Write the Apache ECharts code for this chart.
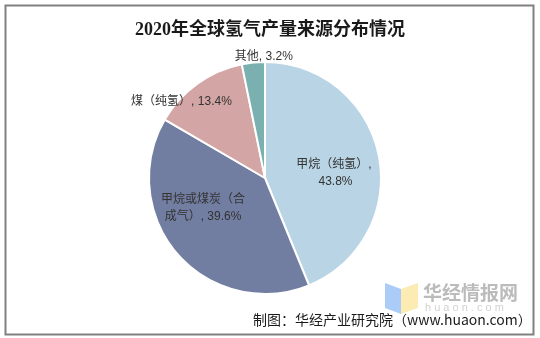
<!DOCTYPE html>
<html>
<head>
<meta charset="utf-8">
<style>
  html, body { margin: 0; padding: 0; background: #ffffff; }
  #chart { width: 540px; height: 338px; }
</style>
<script src="https://cdn.jsdelivr.net/npm/echarts@6/dist/echarts.min.js"></script>
</head>
<body>
<div id="chart"></div>
<script>
// Sources of global hydrogen production, 2020 (share, %)
const categories = ['甲烷（纯氢）', '甲烷或煤炭（合成气）', '煤（纯氢）', '其他'];
const shares = [43.8, 39.6, 13.4, 3.2];
const titleText = '2020年全球氢气产量来源分布情况';
const sourceText = '制图：华经产业研究院（www.huaon.com）';

const sliceColors = ['#b9d4e4', '#727ea1', '#d4a5a5', '#7bb0b1'];
// where each label wraps onto a second line (character index, -1 = single line)
const labelBreak = [7, 7, -1, -1];
// nudges from the default in-slice label anchor
const labelShift = [[9, 7], [-16, -10], [-48, -27], [5, -61]];

const CJK = '"Liberation Sans", "Noto Sans CJK SC", sans-serif';

const chart = echarts.init(document.getElementById('chart'), null, { renderer: 'canvas' });

chart.setOption({
  backgroundColor: '#ffffff',
  animation: false,
  title: {
    text: titleText,
    left: 'center',
    top: 16,
    textStyle: {
      fontFamily: '"Liberation Serif", "Noto Sans CJK SC", serif',
      fontSize: 18,
      fontWeight: 'bold',
      color: '#1a1a1a'
    }
  },
  graphic: [
    // outer frame
    {
      type: 'rect',
      shape: { x: 5.5, y: 5.5, width: 528, height: 329 },
      style: { fill: 'none', stroke: '#808080', lineWidth: 2 },
      z: 1
    },
    // watermark logo
    {
      type: 'polygon',
      shape: { points: [[385, 283], [401, 289], [401, 314], [385, 308]] },
      style: { fill: '#9cc3f4', opacity: 0.85 },
      z: 5
    },
    {
      type: 'polygon',
      shape: { points: [[401, 289], [418, 283], [418, 308], [401, 314]] },
      style: { fill: '#fbe7a6', opacity: 0.85 },
      z: 5
    },
    {
      type: 'text',
      left: 423,
      top: 283,
      style: {
        text: '华经情报网',
        font: 'bold 19px "Noto Sans CJK SC", sans-serif',
        fill: '#b4b4b4',
        opacity: 0.9
      },
      z: 5
    },
    {
      type: 'text',
      left: 425,
      top: 302,
      style: {
        text: 'h u a o n . c o m',
        font: '11px "Liberation Sans", sans-serif',
        fill: '#d2d2d2'
      },
      z: 5
    },
    // source note
    {
      type: 'text',
      left: 253,
      top: 313,
      style: {
        text: sourceText,
        font: '14px "Noto Sans CJK SC", sans-serif',
        fill: '#1a1a1a'
      },
      z: 6
    }
  ],
  series: [{
    type: 'pie',
    center: [265, 178],
    radius: 116,
    startAngle: 90,
    clockwise: true,
    avoidLabelOverlap: false,
    itemStyle: { borderColor: '#ffffff', borderWidth: 2 },
    label: {
      show: true,
      position: 'inside',
      fontFamily: CJK,
      fontSize: 12,
      lineHeight: 17,
      color: '#333333',
      align: 'center',
      formatter: function (p) {
        const full = p.name + ', ' + shares[p.dataIndex] + '%';
        const b = labelBreak[p.dataIndex];
        return b > 0 ? full.slice(0, b) + '\n' + full.slice(b) : full;
      }
    },
    labelLine: { show: false },
    labelLayout: function (p) {
      const s = labelShift[p.dataIndex];
      return { dx: s[0], dy: s[1] };
    },
    emphasis: { disabled: true },
    data: categories.map(function (name, i) {
      return { name: name, value: shares[i], itemStyle: { color: sliceColors[i] } };
    })
  }]
});
</script>
</body>
</html>
